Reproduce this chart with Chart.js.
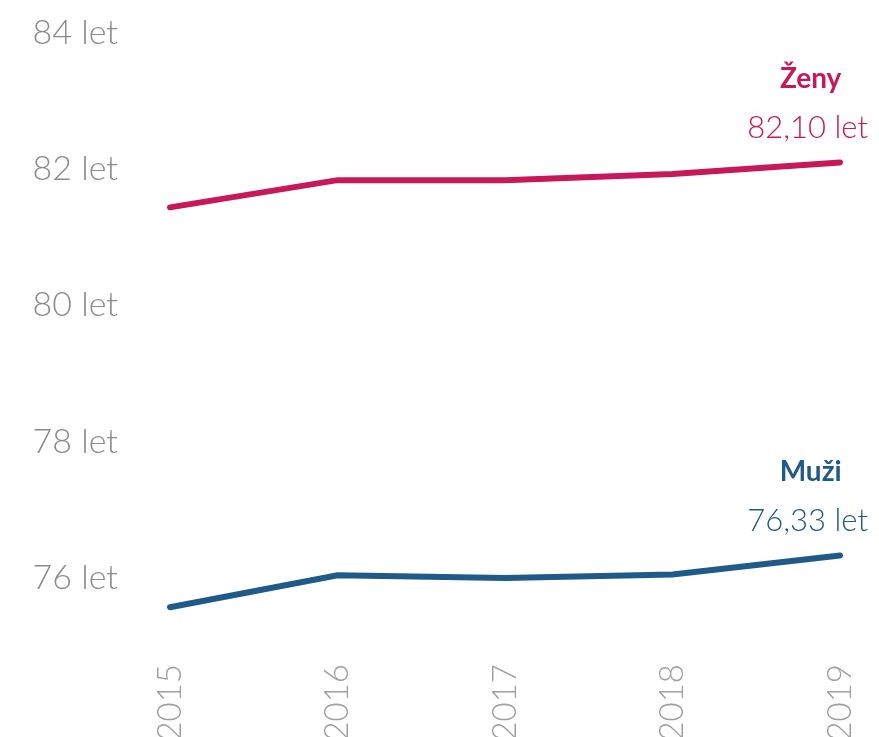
<!DOCTYPE html>
<html>
<head>
<meta charset="utf-8">
<script src="https://cdn.jsdelivr.net/npm/chart.js@4"></script>
<style>
    html, body { margin: 0; padding: 0; background: #fff; overflow: hidden; }
    #wrap { width: 879px; height: 737px; overflow: hidden; }
    #box { width: 879px; height: 770px; }
</style>
</head>
<body>
<div id="wrap"><div id="box"><canvas id="lifeChart"></canvas></div></div>
<script>
const years = ['2015', '2016', '2017', '2018', '2019'];
const zeny = [81.44, 81.84, 81.84, 81.93, 82.10];
const muzi = [75.57, 76.04, 76.00, 76.05, 76.33];
const yTicks = [76, 78, 80, 82, 84];
const seriesNames = ['Ženy', 'Muži'];

const RED = '#c7185a';
const BLUE = '#1f5a88';
const FONT = 'Lato, "Open Sans", sans-serif';

// name + last value written above the end of each line
const endLabels = {
    id: 'endLabels',
    afterDatasetsDraw(chart) {
        const ctx = chart.ctx;
        chart.data.datasets.forEach((ds, i) => {
            const pt = chart.getDatasetMeta(i).data[ds.data.length - 1];
            const last = ds.data[ds.data.length - 1];
            const valueText = last.toFixed(2).replace('.', ',') + ' let';
            ctx.save();
            ctx.fillStyle = ds.borderColor;
            ctx.textBaseline = 'middle';
            ctx.font = '300 31px ' + FONT;
            const w = ctx.measureText(valueText).width;
            const right = pt.x + 28;
            ctx.textAlign = 'right';
            ctx.fillText(valueText, right, pt.y - 34);
            ctx.font = 'bold 28px ' + FONT;
            ctx.textAlign = 'center';
            ctx.fillText(ds.label, right - w / 2 + 3, pt.y - 83);
            ctx.restore();
        });
    }
};

const ctx = document.getElementById('lifeChart').getContext('2d');
new Chart(ctx, {
    type: 'line',
    data: {
        labels: years,
        datasets: [
            {
                label: seriesNames[0],
                data: zeny,
                borderColor: RED,
                borderWidth: 6,
                pointRadius: 0,
                tension: 0,
                borderCapStyle: 'round'
            },
            {
                label: seriesNames[1],
                data: muzi,
                borderColor: BLUE,
                borderWidth: 6,
                pointRadius: 0,
                tension: 0,
                borderCapStyle: 'round'
            }
        ]
    },
    options: {
        responsive: true,
        maintainAspectRatio: false,
        animation: false,
        layout: { padding: { top: 33, right: 39, left: 0, bottom: 0 } },
        scales: {
            x: {
                grid: { display: false, drawTicks: false },
                border: { display: false },
                ticks: {
                    minRotation: 90,
                    maxRotation: 90,
                    padding: 52,
                    color: '#a0a0a0',
                    font: { family: FONT, size: 33, weight: 300 }
                },
                afterFit(scale) {
                    scale.height = 158;
                    scale.paddingLeft = 0;
                    scale.paddingRight = 0;
                }
            },
            y: {
                min: 75.5,
                max: 84,
                grid: { display: false, drawTicks: false },
                border: { display: false },
                afterBuildTicks(scale) {
                    scale.ticks = yTicks.map(v => ({ value: v }));
                },
                ticks: {
                    padding: 52,
                    color: '#8c8c8c',
                    font: { family: FONT, size: 34, weight: 300 },
                    callback: v => v + ' let'
                },
                afterFit(scale) {
                    scale.width = 170;
                    scale.paddingTop = 0;
                    scale.paddingBottom = 0;
                }
            }
        },
        plugins: {
            legend: { display: false },
            tooltip: { enabled: false }
        }
    },
    plugins: [endLabels]
});
</script>
</body>
</html>
